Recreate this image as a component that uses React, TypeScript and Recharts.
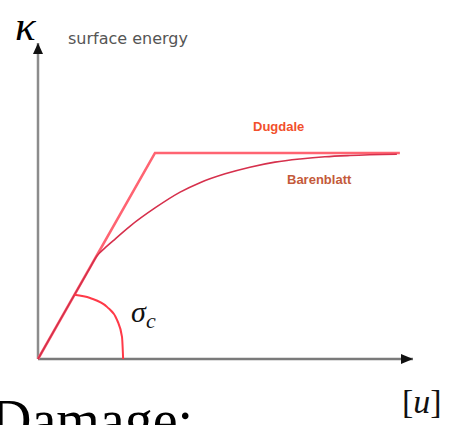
import { LineChart, Line, XAxis, YAxis, ReferenceDot, ReferenceLine } from 'recharts';

const W = 453;
const H = 425;

// opening u (x) and surface energy kappa (y) on a 0..10 grid
const DUGDALE_U = [0, 3.12, 9.65];
const DUGDALE_K = [0, 6.52, 6.52];

const BARENBLATT_U = [0, 0.52, 1.04, 1.35, 1.57, 1.8, 2.0, 2.45, 3.12, 3.79, 4.32, 4.99, 5.65, 6.32, 6.99, 7.65, 8.32, 9.57];
const BARENBLATT_K = [0, 1.09, 2.17, 2.81, 3.26, 3.53, 3.74, 4.2, 4.78, 5.28, 5.58, 5.86, 6.07, 6.23, 6.33, 6.4, 6.44, 6.48];

const SIGMA_U = [0.97, 1.39, 1.84, 2.11, 2.24, 2.27];
const SIGMA_K = [2.03, 1.93, 1.65, 1.23, 0.7, 0];

const DOMAIN: [number, number] = [0, 10];

const toRows = (us: number[], ks: number[]) => us.map((u, i) => ({ u, k: ks[i] }));

const dugdale = toRows(DUGDALE_U, DUGDALE_K);
const barenblatt = toRows(BARENBLATT_U, BARENBLATT_K);
const sigmaArc = toRows(SIGMA_U, SIGMA_K);

function ArrowRight({ cx, cy }: { cx?: number; cy?: number }) {
  if (cx == null || cy == null) return null;
  return <polygon points={`${cx},${cy} ${cx - 12},${cy - 5} ${cx - 12},${cy + 5}`} fill="#111" />;
}

function ArrowUp({ cx, cy }: { cx?: number; cy?: number }) {
  if (cx == null || cy == null) return null;
  return <polygon points={`${cx},${cy} ${cx - 5},${cy + 11} ${cx + 5},${cy + 11}`} fill="#111" />;
}

export default function App() {
  return (
    <div style={{ position: 'relative', width: W, height: H, overflow: 'hidden', background: '#fff' }}>
      <style>{'body{margin:0;background:#fff}'}</style>
      <LineChart width={W} height={H} margin={{ top: 43, right: 40, bottom: 66, left: 38 }}>
        <XAxis type="number" dataKey="u" domain={DOMAIN} hide allowDuplicatedCategory={false} />
        <YAxis type="number" domain={DOMAIN} hide />
        <ReferenceLine y={0} stroke="#7a7a7a" strokeWidth={2.5} />
        <ReferenceLine x={0} stroke="#8c8c8c" strokeWidth={2.5} />
        <Line data={dugdale} dataKey="k" type="linear" stroke="#ff6472" strokeWidth={2.6} dot={false} activeDot={false} isAnimationActive={false} />
        <Line data={barenblatt} dataKey="k" type="monotone" stroke="#d6304c" strokeWidth={1.6} dot={false} activeDot={false} isAnimationActive={false} />
        <Line data={sigmaArc} dataKey="k" type="monotone" stroke="#ff3a48" strokeWidth={2} dot={false} activeDot={false} isAnimationActive={false} />
        <ReferenceDot x={10} y={0} r={0} shape={<ArrowRight />} />
        <ReferenceDot x={0} y={10} r={0} shape={<ArrowUp />} />
      </LineChart>
      <svg width={W} height={H} style={{ position: 'absolute', left: 0, top: 0, pointerEvents: 'none' }}>
        <text x={15} y={40} fontFamily="Liberation Serif" fontStyle="italic" fontSize={43} fill="#000">κ</text>
        <text x={68} y={44} fontFamily="DejaVu Sans" fontSize={16} fill="#555">surface energy</text>
        <text x={253} y={131} fontFamily="Liberation Sans" fontWeight="bold" fontSize={13} fill="#f2502c">Dugdale</text>
        <text x={287} y={184} fontFamily="Liberation Sans" fontWeight="bold" fontSize={13} fill="#c45a3a">Barenblatt</text>
        <text x={131} y={322} fontFamily="Liberation Serif" fontStyle="italic" fontSize={30} fill="#111">σ</text>
        <text x={146} y={328} fontFamily="Liberation Serif" fontStyle="italic" fontSize={22} fill="#111">c</text>
        <text x={402} y={413} fontFamily="Liberation Serif" fontSize={34} fill="#111">
          [<tspan fontStyle="italic">u</tspan>]
        </text>
        <text x={-9} y={439} fontFamily="Liberation Serif" fontSize={56} fill="#000">Damage:</text>
      </svg>
    </div>
  );
}
